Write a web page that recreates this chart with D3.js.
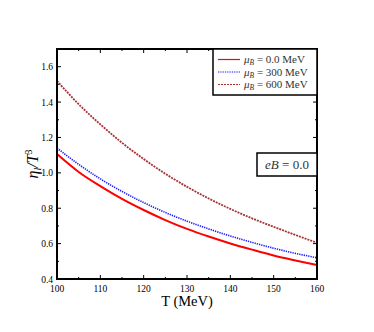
<!DOCTYPE html>
<html>
<head>
<script src="https://cdn.jsdelivr.net/npm/d3@7"></script>
<style>
  body { margin: 0; background: #fff; }
  text { font-family: "Liberation Serif", "DejaVu Serif", serif; }
</style>
</head>
<body>
<div id="chart"></div>
<script>
// data
var temps = [100, 105, 110, 115, 120, 125, 130, 135, 140, 145, 150, 155, 160];
var mu0 = [1.106, 1.005, 0.925, 0.853, 0.790, 0.733, 0.683, 0.640, 0.601, 0.566, 0.533, 0.505, 0.479];
var mu300 = [1.14, 1.048, 0.966, 0.895, 0.832, 0.776, 0.727, 0.683, 0.643, 0.607, 0.574, 0.545, 0.52];
var mu600 = [1.52, 1.388, 1.274, 1.170, 1.078, 0.995, 0.921, 0.855, 0.796, 0.743, 0.695, 0.649, 0.605];
var seriesNames = ["0.0", "300", "600"];
var xTicks = [100, 110, 120, 130, 140, 150, 160];
var yTicks = [0.4, 0.6, 0.8, 1.0, 1.2, 1.4, 1.6];

var W = 374, H = 332;
var pL = 57, pR = 317, pT = 49, pB = 279;

var svg = d3.select("#chart").append("svg").attr("width", W).attr("height", H);

var x = d3.scaleLinear().domain([100, 160]).range([pL, pR]);
var y = d3.scaleLinear().domain([0.4, 1.7]).range([pB, pT]);

// ticks (inside, all four sides)
var g = svg.append("g");
var minorX = d3.range(100, 161, 5), minorY = d3.range(0.4, 1.71, 0.1);
minorX.forEach(function(t) {
  var big = t % 10 === 0 ? 4 : 2;
  g.append("line").attr("x1", x(t)).attr("x2", x(t)).attr("y1", pB).attr("y2", pB - big).attr("stroke", "#000");
  g.append("line").attr("x1", x(t)).attr("x2", x(t)).attr("y1", pT).attr("y2", pT + big).attr("stroke", "#000");
});
minorY.forEach(function(v, i) {
  var big = i % 2 === 0 ? 4 : 2;
  g.append("line").attr("x1", pL).attr("x2", pL + big).attr("y1", y(v)).attr("y2", y(v)).attr("stroke", "#000");
  g.append("line").attr("x1", pR).attr("x2", pR - big).attr("y1", y(v)).attr("y2", y(v)).attr("stroke", "#000");
});

g.selectAll(".xt").data(xTicks).enter().append("text")
  .attr("x", function(d) { return x(d); }).attr("y", pB + 13)
  .attr("text-anchor", "middle").attr("font-size", 9.5).text(function(d) { return d; });
g.selectAll(".yt").data(yTicks).enter().append("text")
  .attr("x", pL - 4).attr("y", function(d) { return y(d) + 3.5; })
  .attr("text-anchor", "end").attr("font-size", 9.5).text(function(d) { return d.toFixed(1); });

// curves
var line = d3.line().x(function(d, i) { return x(temps[i]); }).y(function(d) { return y(d); }).curve(d3.curveMonotoneX);
var styles = [
  { data: mu0, color: "#ff0000", dash: null, w: 2 },
  { data: mu300, color: "#1a1aff", dash: "1.3,1", w: 1.6 },
  { data: mu600, color: "#a83232", dash: "2,1", w: 1.8 }
];
styles.forEach(function(s) {
  svg.append("path").attr("d", line(s.data)).attr("fill", "none")
    .attr("stroke", s.color).attr("stroke-width", s.w).attr("stroke-dasharray", s.dash);
});

// frame
svg.append("rect").attr("x", pL).attr("y", pT).attr("width", pR - pL).attr("height", pB - pT)
  .attr("fill", "none").attr("stroke", "#000").attr("stroke-width", 2);

// legend
var lg = svg.append("g");
lg.append("rect").attr("x", 213).attr("y", pT).attr("width", pR - 213).attr("height", 46)
  .attr("fill", "#fff").attr("stroke", "#000").attr("stroke-width", 1.5);
styles.forEach(function(s, i) {
  var yy = 59.5 + i * 12.5;
  lg.append("line").attr("x1", 218).attr("x2", 240).attr("y1", yy).attr("y2", yy)
    .attr("stroke", s.color).attr("stroke-width", 1.2).attr("stroke-dasharray", s.dash);
  var t = lg.append("text").attr("x", 244).attr("y", yy + 3.5).attr("font-size", 11).attr("fill", "#333");
  t.append("tspan").attr("font-style", "italic").text("μ");
  t.append("tspan").attr("font-style", "italic").attr("font-size", 7.5).attr("dy", 2).text("B");
  t.append("tspan").attr("dy", -2).text(" = " + seriesNames[i] + " MeV");
});

// eB box
svg.append("rect").attr("x", 257).attr("y", 153).attr("width", pR - 257).attr("height", 23)
  .attr("fill", "#fff").attr("stroke", "#000").attr("stroke-width", 1.5);
var eb = svg.append("text").attr("x", 287).attr("y", 168.5).attr("text-anchor", "middle").attr("font-size", 13).attr("fill", "#333");
eb.append("tspan").attr("font-style", "italic").text("eB");
eb.append("tspan").text(" = 0.0");

// axis labels
svg.append("text").attr("x", (pL + pR) / 2).attr("y", 306).attr("text-anchor", "middle")
  .attr("font-size", 14.5).text("T (MeV)");
var yl = svg.append("text").attr("transform", "translate(38," + 164 + ") rotate(-90)")
  .attr("text-anchor", "middle").attr("font-size", 16);
yl.append("tspan").attr("font-style", "italic").text("η");
yl.append("tspan").attr("font-style", "italic").attr("font-size", 10).attr("dy", 3).text("l");
yl.append("tspan").attr("dy", -3).attr("font-style", "italic").text("/T");
yl.append("tspan").attr("font-size", 10).attr("dy", -6).text("3");
</script>
</body>
</html>
